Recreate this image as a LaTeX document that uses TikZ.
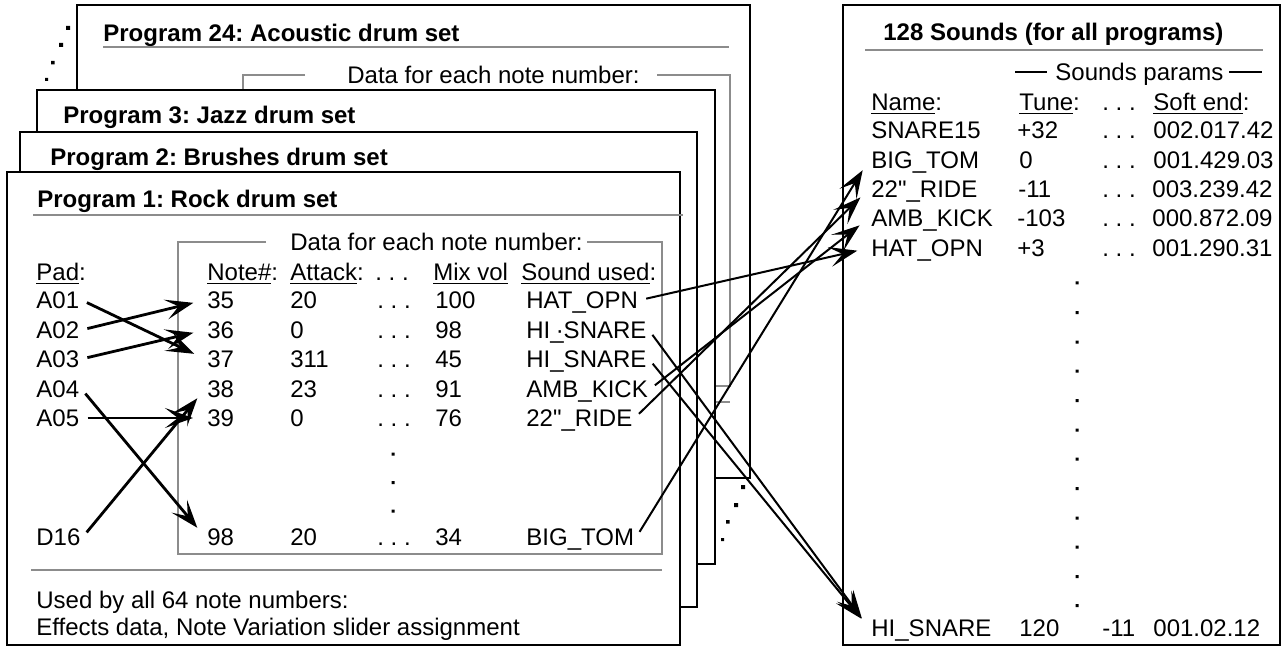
\documentclass[tikz,border=0pt]{standalone}
\usepackage{fontspec}
\setmainfont{Liberation Sans}
\newfontfamily\plainquote{Liberation Sans}
\usepackage{tikz}
\usetikzlibrary{arrows.meta, positioning}
\frenchspacing
\tikzstyle{progFrame} = [draw=black, line width=1.2pt, fill=white]
\tikzstyle{grayLine} = [draw=black!45, line width=1.2pt]
\tikzstyle{arrow} = [line width=1pt, -{Stealth[length=14pt, width=10pt, inset=6.5pt]}, shorten <=3pt, shorten >=6pt]
\tikzstyle{padArrow} = [arrow, line width=1.4pt]
\tikzstyle{txt} = [anchor=west, inner sep=1pt, text height=8.6pt, text depth=0pt, font=\fontsize{12}{14}\selectfont]
\tikzstyle{bold} = [txt, font=\fontsize{12}{14}\selectfont\bfseries]

\begin{document}
\begin{tikzpicture}[x=0.5pt, y=-0.5pt]
\useasboundingbox (0,0) rectangle (1287,647);

% program 24, at the back
\draw[progFrame] (77,5) rectangle (750,478);
\node (p24) [bold] at (101,33) {Program 24: Acoustic drum set};
\draw[grayLine] (103,47) -- (729,47);
\node (data24) [txt] at (345,75) {Data for each note number:};
\draw[grayLine] (305,75) -- (243,75) -- (243,386) -- (730,386) -- (730,75) -- (657,75);
\draw[grayLine] (103,402) -- (730,402);
\fill (66,26) rectangle ++(4,4) (59,43) rectangle ++(4,4) (51,61) rectangle ++(3.5,3.5) (45,78) rectangle ++(3,3);

% programs 3 and 2
\draw[progFrame] (37,90) rectangle (715,564);
\node (p3) [bold] at (61,115) {Program 3: Jazz drum set};
\draw[progFrame] (20,132) rectangle (697,607);
\node (p2) [bold] at (48,157) {Program 2: Brushes drum set};
\fill (741,485) rectangle ++(4,4) (734,503) rectangle ++(4,4) (726,520) rectangle ++(3.5,3.5) (721,538) rectangle ++(3,3);

% program 1, in front
\draw[progFrame] (7,172) rectangle (680,645);
\node (p1) [bold] at (35,199) {Program 1: Rock drum set};
\draw[grayLine] (33,215) -- (683,215);
\node (data1) [txt] at (288,242) {Data for each note number:};
\draw[grayLine] (266,242) -- (178,242) -- (178,554) -- (662,554) -- (662,242) -- (587,242);

\node (padhd) [txt] at (34,272) {\underline{Pad}:};
\node (notehd) [txt] at (205,272) {\underline{Note\#}:};
\node (attackhd) [txt] at (288,272) {\underline{Attack}:};
\node (dotshd) [txt] at (373,272) {. . .};
\node (mixhd) [txt] at (431,272) {\underline{Mix vol}};
\node (soundhd) [txt] at (519,272) {\underline{Sound used}:};

\node (a01) [txt] at (34,300) {A01};
\node (a02) [txt] at (34,330) {A02};
\node (a03) [txt] at (34,359) {A03};
\node (a04) [txt] at (34,389) {A04};
\node (a05) [txt] at (34,418) {A05};
\node (d16) [txt] at (34,537) {D16};

\node (n35) [txt] at (205,300) {35};
\node (n36) [txt] at (205,330) {36};
\node (n37) [txt] at (205,359) {37};
\node (n38) [txt] at (205,389) {38};
\node (n39) [txt] at (205,418) {39};
\node (n98) [txt] at (205,537) {98};

\node (t35) [txt] at (288,300) {20};
\node (t36) [txt] at (288,330) {0};
\node (t37) [txt] at (288,359) {311};
\node (t38) [txt] at (288,389) {23};
\node (t39) [txt] at (288,418) {0};
\node (t98) [txt] at (288,537) {20};

\node (d35) [txt] at (375,300) {. . .};
\node (d36) [txt] at (375,330) {. . .};
\node (d37) [txt] at (375,359) {. . .};
\node (d38) [txt] at (375,389) {. . .};
\node (d39) [txt] at (375,418) {. . .};
\node (d98) [txt] at (375,537) {. . .};
\fill (391.5,452.5) rectangle ++(3,3) (391.5,481) rectangle ++(3,3) (391.5,509.5) rectangle ++(3,3);

\node (m35) [txt] at (433,300) {100};
\node (m36) [txt] at (433,330) {98};
\node (m37) [txt] at (433,359) {45};
\node (m38) [txt] at (433,389) {91};
\node (m39) [txt] at (433,418) {76};
\node (m98) [txt] at (433,537) {34};

\node (s35) [txt] at (524,300) {HAT\_OPN};
\node (s36) [txt] at (524,330) {HI\_\llap{·}SNARE};
\node (s37) [txt] at (524,359) {HI\_SNARE};
\node (s38) [txt] at (524,389) {AMB\_KICK};
\node (s39) [txt] at (524,418) {22{\plainquote"}\_RIDE};
\node (s98) [txt] at (524,537) {BIG\_TOM};

\draw[grayLine] (31,570) -- (662,570);
\node (used) [txt] at (34,600) {Used by all 64 note numbers:};
\node (effects) [txt] at (34,627) {Effects data, Note Variation slider assignment};

% the sound list
\draw[progFrame] (843,5) rectangle (1280,645);
\node (snd) [bold] at (881,32) {128 Sounds (for all programs)};
\draw[grayLine] (865,50) -- (1263,50);
\node (params) [txt] at (1053,72) {Sounds params};
\draw[line width=1.2pt] (1015,72) -- (1047,72) (1229,72) -- (1262,72);

\node (namehd) [txt] at (869,102) {\underline{Name}:};
\node (tunehd) [txt] at (1017,102) {\underline{Tune}:};
\node (ldotshd) [txt] at (1100,102) {. . .};
\node (softhd) [txt] at (1151,102) {\underline{Soft end}:};

\node (lsnare) [txt] at (869,130) {SNARE15};
\node (lbigtom) [txt] at (869,160) {BIG\_TOM};
\node (lride) [txt] at (869,189) {22{\plainquote"}\_RIDE};
\node (lkick) [txt] at (869,218) {AMB\_KICK};
\node (lhat) [txt] at (869,248) {HAT\_OPN};
\node (lhisnare) [txt] at (869,628) {HI\_SNARE};

\node (u1) [txt] at (1015,130) {+32};
\node (u2) [txt] at (1017,160) {0};
\node (u3) [txt] at (1016,189) {-11};
\node (u4) [txt] at (1015,218) {-103};
\node (u5) [txt] at (1015,248) {+3};
\node (u6) [txt] at (1017,628) {120};

\node (e1) [txt] at (1100,130) {. . .};
\node (e2) [txt] at (1100,160) {. . .};
\node (e3) [txt] at (1100,189) {. . .};
\node (e4) [txt] at (1100,218) {. . .};
\node (e5) [txt] at (1100,248) {. . .};
\node (e6) [txt] at (1100,628) {-11};

\node (f1) [txt] at (1151,130) {002.017.42};
\node (f2) [txt] at (1151,160) {001.429.03};
\node (f3) [txt] at (1150,189) {003.239.42};
\node (f4) [txt] at (1150,218) {000.872.09};
\node (f5) [txt] at (1150,248) {001.290.31};
\node (f6) [txt] at (1151,628) {001.02.12};

\fill (1075.5,281.5) rectangle ++(3,3) (1075.5,311) rectangle ++(3,3) (1075.5,340.5) rectangle ++(3,3)
      (1075.5,369.5) rectangle ++(3,3) (1075.5,399) rectangle ++(3,3) (1075.5,428.5) rectangle ++(3,3)
      (1075.5,457.5) rectangle ++(3,3) (1075.5,487) rectangle ++(3,3) (1075.5,516.5) rectangle ++(3,3)
      (1075.5,545.5) rectangle ++(3,3) (1075.5,575) rectangle ++(3,3) (1075.5,604) rectangle ++(3,3);

% pads to note numbers
\draw[padArrow] (a01.east) -- (n37.west);
\draw[padArrow] (a02.east) -- (n35.west);
\draw[padArrow] (a03.east) -- (n36.west);
\draw[padArrow] (a04.east) -- (n98.west);
\draw[padArrow] (a05.east) -- (n39.west);
\draw[padArrow] (d16.east) -- (n38.west);

% sounds used to the sound list
\draw[arrow] (s35.east) -- (lhat.west);
\draw[arrow] (s36.east) -- (lhisnare.west);
\draw[arrow] (s37.east) -- (lhisnare.west);
\draw[arrow] (s38.east) -- (lkick.west);
\draw[arrow] (s39.east) -- (lride.west);
\draw[arrow] (s98.east) -- (lbigtom.west);
\end{tikzpicture}
\end{document}
